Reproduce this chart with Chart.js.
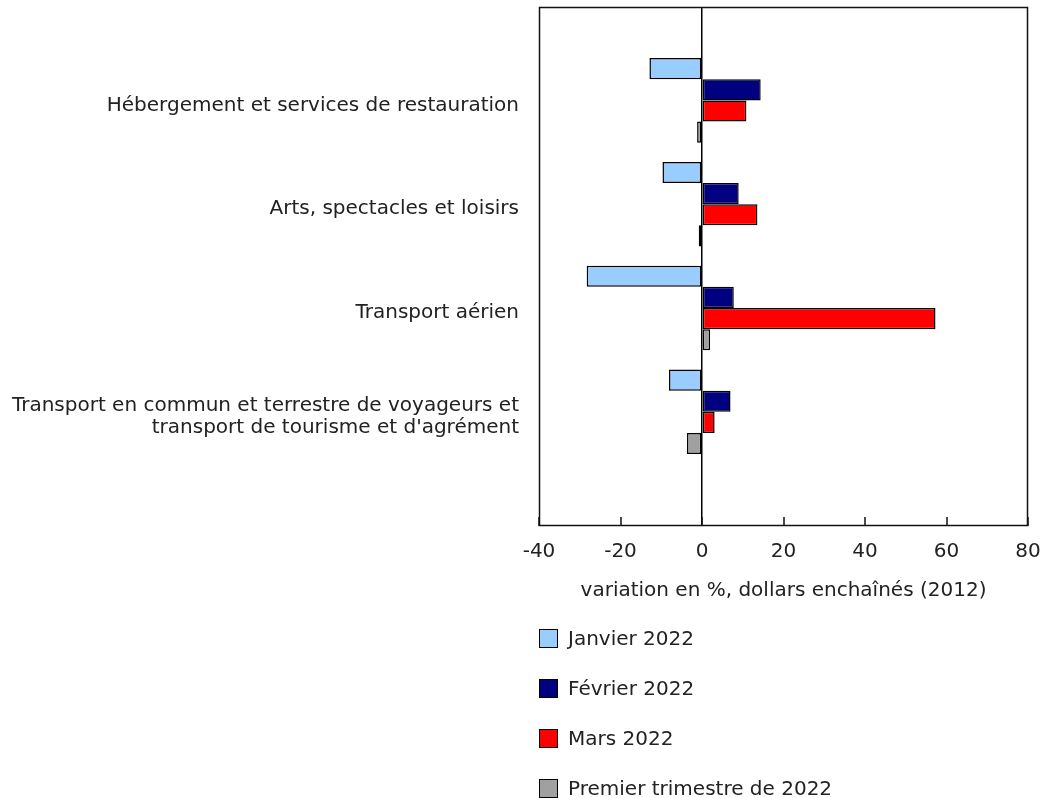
<!DOCTYPE html>
<html>
<head>
<meta charset="utf-8">
<script src="https://cdn.jsdelivr.net/npm/chart.js@4"></script>
<style>
  html, body { margin: 0; padding: 0; background: #fff; }
  #wrap { position: relative; width: 1043px; height: 798px; }
  #chartBox { position: absolute; left: 0; top: 0; width: 1043px; height: 620px; }
  #legend { position: absolute; left: 539px; top: 613px; font-family: "DejaVu Sans", Verdana, sans-serif; font-size: 20px; color: #222; }
  .item { height: 50px; display: flex; align-items: center; }
  .box { width: 17px; height: 17px; border: 1.5px solid #000; margin-right: 10px; box-sizing: content-box; }
</style>
</head>
<body>
<div id="wrap">
  <div id="chartBox"><canvas id="c"></canvas></div>
  <div id="legend"></div>
</div>
<script>
const categories = [
  "Hébergement et services de restauration",
  "Arts, spectacles et loisirs",
  "Transport aérien",
  ["Transport en commun et terrestre de voyageurs et", "transport de tourisme et d'agrément"]
];
const seriesNames = ["Janvier 2022", "Février 2022", "Mars 2022", "Premier trimestre de 2022"];
const janvier = [-12.9, -9.7, -28.3, -8.1];
const fevrier = [14.4, 9.0, 7.8, 7.0];
const mars = [10.9, 13.6, 57.3, 3.1];
const premierTrimestre = [-1.2, -0.8, 2.0, -3.7];
const xTicks = [-40, -20, 0, 20, 40, 60, 80];

const colors = ["#99CCFF", "#000080", "#FF0000", "#A0A0A0"];
const seriesValues = [janvier, fevrier, mars, premierTrimestre];

const FONT = "'DejaVu Sans', Verdana, sans-serif";
const TEXT = "#222";

const datasets = seriesValues.map((vals, s) => ({
  label: seriesNames[s],
  data: vals.map((v, i) => ({ x: v, y: i })),
  backgroundColor: colors[s],
  borderColor: "#000",
  borderWidth: 1.5,
  borderSkipped: false,
  categoryPercentage: 0.815,
  barPercentage: 1.0
}));

const framePlugin = {
  id: "frame",
  afterDraw(chart) {
    const { ctx, chartArea: a } = chart;
    const xs = chart.scales.x;
    ctx.save();
    ctx.strokeStyle = "#111";
    ctx.lineWidth = 1.5;
    ctx.strokeRect(a.left + 0.5, a.top + 0.5, a.right - a.left - 1, a.bottom - a.top - 1);
    for (const v of xTicks) {
      const px = Math.round(xs.getPixelForValue(v));
      ctx.beginPath();
      ctx.moveTo(px, a.bottom);
      ctx.lineTo(px, a.bottom - 9);
      ctx.stroke();
    }
    ctx.restore();
  }
};

new Chart(document.getElementById("c"), {
  type: "bar",
  data: { datasets },
  plugins: [framePlugin],
  options: {
    indexAxis: "y",
    responsive: true,
    maintainAspectRatio: false,
    animation: false,
    layout: { padding: { top: 7, right: 15, left: 0, bottom: 0 } },
    plugins: { legend: { display: false }, tooltip: { enabled: false } },
    scales: {
      x: {
        type: "linear",
        offset: false,
        min: xTicks[0],
        max: xTicks[xTicks.length - 1],
        afterBuildTicks(scale) { scale.ticks = xTicks.map(v => ({ value: v })); },
        afterFit(scale) { scale.height = 94; scale.paddingLeft = 0; scale.paddingRight = 0; },
        border: { display: false },
        grid: {
          drawOnChartArea: true,
          color: (c) => (c.tick && c.tick.value === 0 ? "#000" : "rgba(0,0,0,0)"),
          lineWidth: 1.5,
          drawTicks: false
        },
        ticks: { font: { family: FONT, size: 20 }, color: TEXT, padding: 14, maxRotation: 0 },
        title: {
          display: true,
          text: "variation en %, dollars enchaînés (2012)",
          font: { family: FONT, size: 20 },
          color: TEXT,
          padding: { top: 0, bottom: 17 }
        }
      },
      y: {
        type: "linear",
        offset: false,
        reverse: true,
        min: -0.9,
        max: categories.length + 0.1,
        afterBuildTicks(scale) { scale.ticks = categories.map((c, i) => ({ value: i })); },
        afterFit(scale) { scale.width = 539; scale.paddingTop = 0; scale.paddingBottom = 0; },
        border: { display: false },
        grid: { display: false, drawTicks: false, offset: false },
        ticks: {
          font: { family: FONT, size: 20, lineHeight: 1.1 },
          color: TEXT,
          padding: 20,
          labelOffset: 5,
          callback: (v) => categories[v]
        }
      }
    }
  }
});

const legend = document.getElementById("legend");
seriesNames.forEach((name, s) => {
  const row = document.createElement("div");
  row.className = "item";
  const box = document.createElement("span");
  box.className = "box";
  box.style.background = colors[s];
  const txt = document.createElement("span");
  txt.textContent = name;
  row.appendChild(box);
  row.appendChild(txt);
  legend.appendChild(row);
});
</script>
</body>
</html>
